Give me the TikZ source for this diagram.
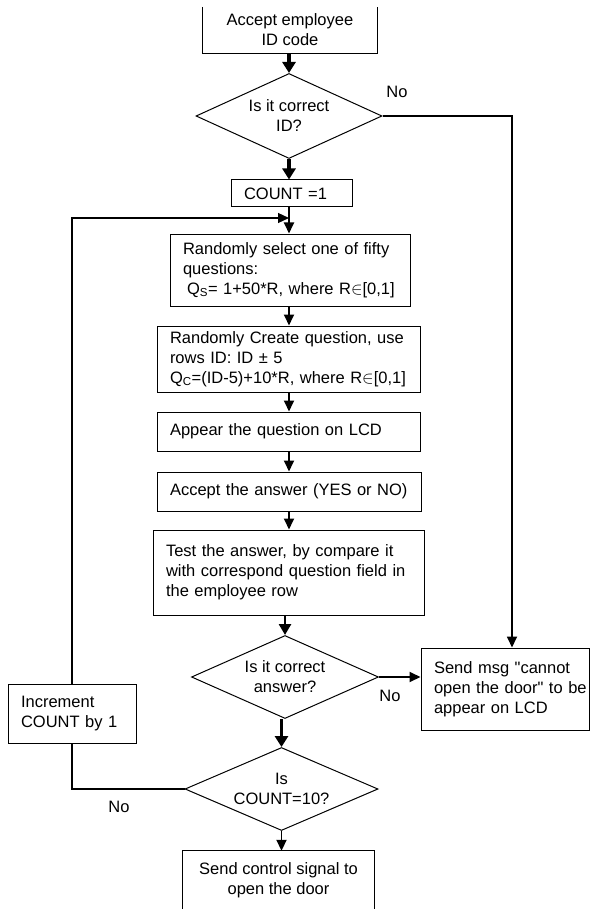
\documentclass[tikz,border=0pt]{standalone}
\usepackage{fontspec}
\setmainfont{Liberation Sans}[Ligatures=TeXOff]
\usetikzlibrary{shapes.geometric,arrows.meta}

\tikzset{
  txt/.style={font=\fontsize{16.5}{20}\selectfont},
  box/.style={txt,draw,line width=1pt,rectangle,inner sep=0pt,align=left},
  openbox/.style={txt,rectangle,inner sep=0pt,align=center},
  decision/.style={draw,line width=1pt,diamond,inner sep=0pt},
  dtext/.style={txt,inner sep=0pt,align=center},
  flow/.style={line width=1.8pt,-{Triangle[width=10pt,length=11pt]}},
  bigflow/.style={line width=3.5pt,-{Triangle[width=13pt,length=11pt]}},
  loopline/.style={line width=1.2pt},
  lbl/.style={txt,inner sep=0pt}
}

\begin{document}
\begin{tikzpicture}[x=1pt,y=-1pt]
\useasboundingbox (0,0) rectangle (591,909);

% main column
\node[openbox,minimum width=174pt,minimum height=46pt] (start) at (290,30)
  {Accept employee\\ID code};
\draw[line width=1pt] (start.north west) -- (start.south west) -- (start.south east) -- (start.north east);

\node[decision,minimum width=186pt,minimum height=85pt] (d1) at (289,116) {};
\node[dtext] (d1t) at (d1.center) {Is it correct\\ID?};

\node[box,minimum width=121pt,minimum height=27pt,text width=95pt] (count) at (291.5,193.5)
  {\mbox{COUNT =1}};

\node[box,minimum width=240pt,minimum height=72pt,text width=214pt] (b2) at (290,270)
  {\mbox{Randomly select one of fifty}\\
   \mbox{questions:}\\
   \mbox{\hspace{4pt}Q\textsubscript{S}= 1+50*R, where R$\in$[0,1]}};

\node[box,minimum width=263pt,minimum height=66pt,text width=237pt] (b3) at (288.5,359)
  {\mbox{Randomly Create question, use}\\
   \mbox{rows ID: ID ± 5}\\
   \mbox{Q\textsubscript{C}=(ID-5)+10*R, where R$\in$[0,1]}};

\node[box,minimum width=263pt,minimum height=39pt,text width=237pt] (b4) at (288.5,431.5)
  {\mbox{Appear the question on LCD}};

\node[box,minimum width=264pt,minimum height=39pt,text width=238pt] (b5) at (289,491.5)
  {\mbox{Accept the answer (YES or NO)}};

\node[box,minimum width=271pt,minimum height=85pt,text width=245pt] (b6) at (288.5,572.5)
  {\mbox{Test the answer, by compare it}\\
   \mbox{with correspond question field in}\\
   \mbox{the employee row}};

\node[decision,minimum width=187pt,minimum height=83pt] (d2) at (285,677) {};
\node[dtext] (d2t) at (d2.center) {Is it correct\\answer?};

\node[decision,minimum width=193pt,minimum height=83pt] (d3) at (281.5,789) {};
\node[dtext] (d3t) at (d3.center) {Is\\COUNT=10?};

\node[openbox,minimum width=191pt,minimum height=58pt] (done) at (278.5,880)
  {Send control signal to\\open the door};
\draw[line width=1pt] (done.south west) -- (done.north west) -- (done.north east) -- (done.south east);

% side boxes
\node[box,minimum width=168.5pt,minimum height=82pt,text width=142.5pt] (msg) at (505.25,689)
  {\mbox{Send msg "cannot}\\
   \mbox{open the door" to be}\\
   \mbox{appear on LCD}};

\node[box,minimum width=128pt,minimum height=59pt,text width=102pt] (inc) at (72,713.5)
  {\mbox{Increment}\\\mbox{COUNT by 1}};

% connectors of the main column
\draw[bigflow] (start.south -| d1.north) -- (d1.north);
\draw[bigflow] (d1.south) -- (d1.south |- count.north);
\coordinate (join) at (289,218);
\draw[flow] (count.south -| join) -- (join |- b2.north);
\draw[flow] (b2.south -| join) -- (join |- b3.north);
\draw[flow] (b3.south -| join) -- (join |- b4.north);
\draw[flow] (b4.south -| join) -- (join |- b5.north);
\draw[flow] (b5.south -| join) -- (join |- b6.north);
\draw[line width=2.6pt,-{Triangle[width=12pt,length=11pt]}] (b6.south -| d2.north) -- (d2.north);
\draw[bigflow] (d2.south -| d3.north) -- (d3.north);
\draw[flow] (d3.south) -- (d3.south |- done.north);

% wrong ID
\coordinate (idturn) at (512,116);
\draw[flow] (d1.east) -- (idturn) -- (idturn |- msg.north);
\node[lbl] (no1) at (397,92) {No};

% wrong answer
\draw[flow] (d2.east) -- (d2.east -| msg.west);
\node[lbl] (no2) at (390,696) {No};

% count loop
\coordinate (lowturn) at (72,789);
\coordinate (topturn) at (72,218);
\draw[loopline] (d3.west) -- (lowturn) -- (inc.south);
\draw[loopline,-{Triangle[width=10pt,length=11pt]}] (inc.north) -- (topturn) -- (join);
\node[lbl] (no3) at (119,807) {No};
\end{tikzpicture}
\end{document}
